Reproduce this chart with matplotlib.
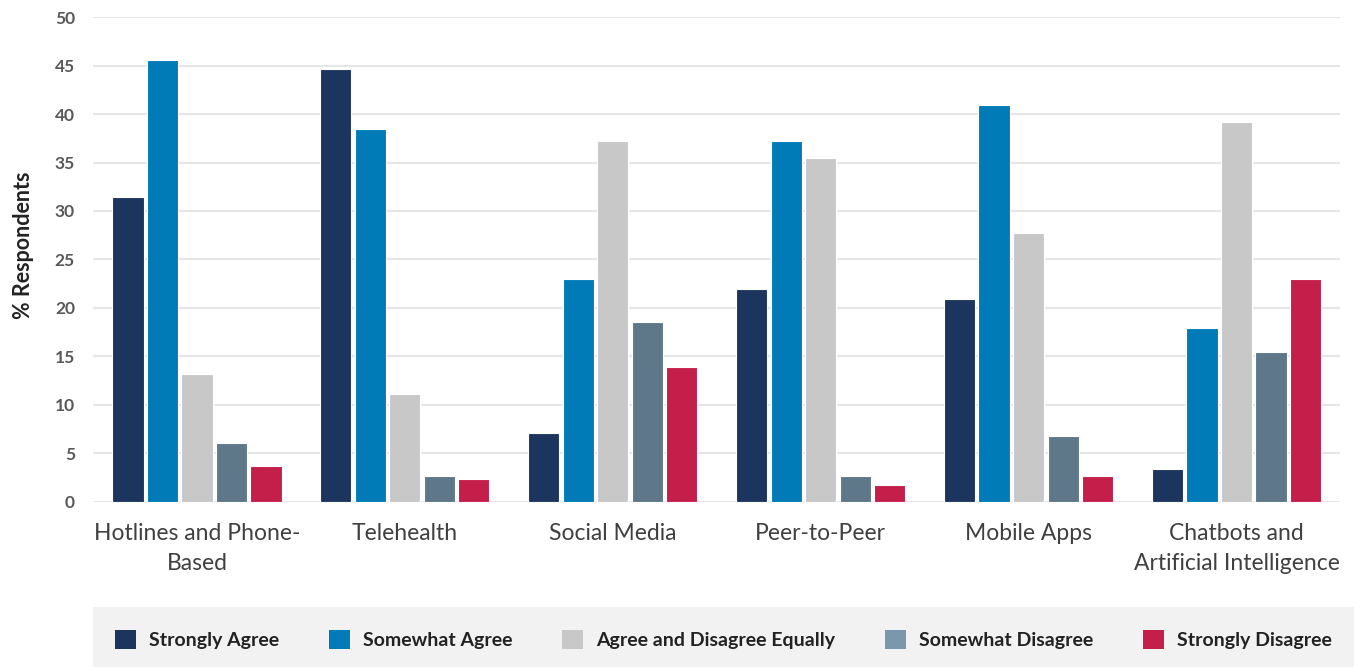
import numpy as np
import matplotlib
matplotlib.use('Agg')
import matplotlib.pyplot as plt
from matplotlib.patches import Patch, Rectangle

# data
categories = ['Hotlines and Phone-\nBased', 'Telehealth', 'Social Media',
              'Peer-to-Peer', 'Mobile Apps', 'Chatbots and\nArtificial Intelligence']
series = ['Strongly Agree', 'Somewhat Agree', 'Agree and Disagree Equally',
          'Somewhat Disagree', 'Strongly Disagree']
strongly_agree = [31.4, 44.6, 7.1, 22.0, 20.9, 3.4]
somewhat_agree = [45.6, 38.5, 23.0, 37.2, 40.9, 17.9]
equally = [13.2, 11.1, 37.2, 35.5, 27.7, 39.2]
somewhat_disagree = [6.1, 2.7, 18.6, 2.7, 6.8, 15.5]
strongly_disagree = [3.7, 2.4, 13.9, 1.7, 2.7, 23.0]

bar_colors = ['#1C355E', '#007BB8', '#C8C8C8', '#5E7889', '#C41E4A']
legend_colors = ['#1C355E', '#007BB8', '#C8C8C8', '#7A97AB', '#C41E4A']

plt.rcParams['font.family'] = ['Lato', 'DejaVu Sans']

fig = plt.figure(figsize=(13.54, 6.67), dpi=100)
ax = fig.add_axes([0.0687, 0.2474, 0.9213, 0.7271])

values = [strongly_agree, somewhat_agree, equally, somewhat_disagree, strongly_disagree]
x = np.arange(len(categories))
step = 0.166
width = 0.150
for i, vals in enumerate(values):
    offs = (i - 2) * step
    ax.bar(x + offs, vals, width=width, color=bar_colors[i],
           edgecolor='white', linewidth=0.8, zorder=3)

ax.set_xlim(-0.5, len(categories) - 0.5)
ax.set_ylim(0, 50)
ax.set_yticks(range(0, 51, 5))
ax.grid(axis='y', color='#E6E6E6', linewidth=1.5, zorder=0)
for s in ax.spines.values():
    s.set_visible(False)
ax.tick_params(axis='both', length=0)
ax.tick_params(axis='y', labelsize=12.5, labelcolor='#595959', pad=13)
for lab in ax.get_yticklabels():
    lab.set_fontweight('bold')
ax.set_xticks(x)
ax.set_xticklabels(categories, fontsize=16.5, color='#404040', linespacing=1.55)
ax.tick_params(axis='x', pad=15)
ax.set_ylabel('% Respondents', fontsize=15.5, fontweight='bold', color='#222222')
ax.yaxis.set_label_coords(-0.047, 0.53)

# legend background band
fig.patches.append(Rectangle((93 / 1354, 0), 1 - 93 / 1354, 60 / 667,
                             transform=fig.transFigure, facecolor='#F2F2F2',
                             edgecolor='none', zorder=0))
handles = [Patch(facecolor=c, edgecolor='none') for c in legend_colors]
leg = fig.legend(handles, series, loc='center', bbox_to_anchor=(0.5343, 0.041),
                 ncol=5, frameon=False, handlelength=1.08, handleheight=1.08,
                 handletextpad=0.67, columnspacing=2.55,
                 prop={'size': 14, 'weight': 'bold'})
for t in leg.get_texts():
    t.set_color('#222222')

fig.savefig('out.png', dpi=100)
